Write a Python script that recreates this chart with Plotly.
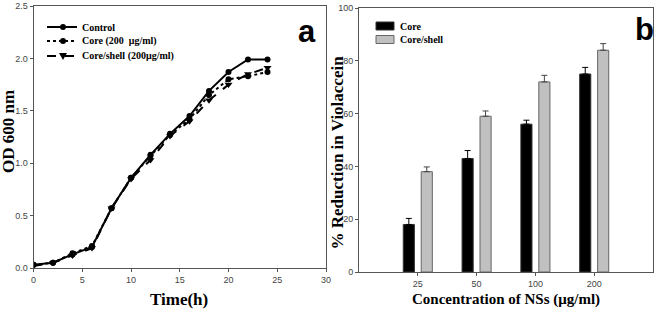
import plotly.graph_objects as go

# ---- Panel a data ----
time_h = [0, 2, 4, 6, 8, 10, 12, 14, 16, 18, 20, 22, 24]
od_control = [0.03, 0.05, 0.13, 0.20, 0.57, 0.86, 1.08, 1.28, 1.45, 1.69, 1.87, 1.99, 1.99]
od_core = [0.03, 0.05, 0.14, 0.21, 0.57, 0.86, 1.07, 1.27, 1.42, 1.65, 1.80, 1.83, 1.87]
od_shell = [0.02, 0.05, 0.12, 0.19, 0.57, 0.85, 1.03, 1.26, 1.40, 1.60, 1.75, 1.85, 1.91]
series_a = ["Control", "Core (200  μg/ml)", "Core/shell (200μg/ml)"]

# ---- Panel b data ----
conc = ["25", "50", "100", "200"]
red_core = [18, 43, 56, 75]
red_shell = [38, 59, 72, 84]
err_core = [2.3, 3.0, 1.5, 2.5]
err_shell = [1.8, 2.0, 2.5, 2.5]
stars_core = ["", "**", "**", "***"]
stars_shell = ["*", "**", "**", "***"]
series_b = ["Core", "Core/shell"]

W, H = 656, 312
SERIF = "Liberation Serif, Times New Roman, serif"
TICKF = dict(family="Liberation Sans Narrow, Arial Narrow, Liberation Sans, Arial", size=9, color="#444")


def px(x):
    return x / W


def py(y):
    return 1 - y / H


fig = go.Figure()

styles_a = [("solid", "circle"), ("dot", "circle"), ("dash", "triangle-down")]
for name, vals, (dash, sym) in zip(series_a, [od_control, od_core, od_shell], styles_a):
    fig.add_trace(go.Scatter(x=time_h, y=vals, name=name, mode="lines+markers",
                             line=dict(color="black", width=2, dash=dash),
                             marker=dict(symbol=sym, size=6 if sym == "circle" else 7, color="black"),
                             xaxis="x", yaxis="y", showlegend=False))

fig.add_trace(go.Bar(x=conc, y=red_core, name=series_b[0],
                     marker=dict(color="black", line=dict(color="#333", width=1)),
                     error_y=dict(type="data", symmetric=False, array=err_core,
                                  arrayminus=[0] * 4, color="black", thickness=1, width=3),
                     xaxis="x2", yaxis="y2", showlegend=False))
fig.add_trace(go.Bar(x=conc, y=red_shell, name=series_b[1],
                     marker=dict(color="#c0c0c0", line=dict(color="#666", width=1)),
                     error_y=dict(type="data", symmetric=False, array=err_shell,
                                  arrayminus=[0] * 4, color="#444", thickness=1, width=3),
                     xaxis="x2", yaxis="y2", showlegend=False))

ann = []
for i, c in enumerate(conc):
    if stars_core[i]:
        ann.append(dict(x=c, y=red_core[i] + err_core[i], xref="x2", yref="y2", text=stars_core[i],
                        showarrow=False, xshift=-9, yshift=5, font=dict(size=8, color="#222")))
    if stars_shell[i]:
        ann.append(dict(x=c, y=red_shell[i] + err_shell[i], xref="x2", yref="y2", text=stars_shell[i],
                        showarrow=False, xshift=9, yshift=5, font=dict(size=8, color="#222")))


def label(text, x, y, size, angle=0, family=SERIF, xanchor="center"):
    return dict(text=text, x=px(x), y=py(y), xref="paper", yref="paper", textangle=angle,
                xanchor=xanchor, yanchor="middle", showarrow=False,
                font=dict(family=family, size=size, color="black"))


ann += [
    label("<b>OD 600 nm</b>", 8, 132, 17, -90),
    label("<b>Time(h)</b>", 179, 299, 17),
    label("<b>% Reduction in Violaccein</b>", 336.5, 153, 17, -90),
    label("<b>Concentration of NSs (μg/ml)</b>", 506, 299, 15),
    label("<b>a</b>", 307, 32, 31, family="Liberation Sans, Arial"),
    label("<b>b</b>", 644, 29, 31, family="Liberation Sans, Arial"),
]

# manual legends
shapes = []
leg_a_y = [27, 41, 56]
for name, (dash, sym), yy in zip(series_a, styles_a, leg_a_y):
    shapes.append(dict(type="line", xref="paper", yref="paper", x0=px(47), x1=px(77), y0=py(yy), y1=py(yy),
                       line=dict(color="black", width=2, dash=dash)))
    if sym == "circle":
        shapes.append(dict(type="circle", xref="paper", yref="paper", x0=px(60), x1=px(66),
                           y0=py(yy - 3), y1=py(yy + 3), fillcolor="black", line=dict(width=0)))
    else:
        shapes.append(dict(type="path", xref="paper", yref="paper",
                           path=f"M {px(59)} {py(yy - 3)} L {px(67)} {py(yy - 3)} L {px(63)} {py(yy + 4)} Z",
                           fillcolor="black", line=dict(width=0)))
    ann.append(label(f"<b>{name}</b>", 80, yy, 10, xanchor="left"))

leg_b_y = [26, 39.5]
for name, yy, col, lc in zip(series_b, leg_b_y, ["black", "#c0c0c0"], ["#333", "#666"]):
    shapes.append(dict(type="rect", xref="paper", yref="paper", x0=px(376), x1=px(394),
                       y0=py(yy - 4), y1=py(yy + 4), fillcolor=col, line=dict(color=lc, width=1)))
    ann.append(label(f"<b>{name}</b>", 398, yy, 10, xanchor="left"))

axis_common = dict(showline=True, linecolor="#555", linewidth=1, mirror=True, ticks="outside",
                   ticklen=3, tickcolor="#555", showgrid=False, zeroline=False, tickfont=TICKF,
                   automargin=False)

fig.update_layout(
    width=W, height=H, margin=dict(l=0, r=0, t=0, b=0, autoexpand=False),
    paper_bgcolor="white", plot_bgcolor="white",
    barmode="group", bargap=0.39, bargroupgap=0.38,
    xaxis=dict(domain=[px(33.5), px(326)], range=[0, 30], tickvals=[0, 5, 10, 15, 20, 25, 30],
               anchor="y", **axis_common),
    yaxis=dict(domain=[py(268), py(6)], range=[0, 2.5], tickvals=[0, 0.5, 1, 1.5, 2, 2.5],
               ticktext=["0.0", "0.5", "1.0", "1.5", "2.0", "2.5"], anchor="x", **axis_common),
    xaxis2=dict(domain=[px(359), px(653)], type="category", range=[-1, 4], anchor="y2", **axis_common),
    yaxis2=dict(domain=[py(272), py(8)], range=[0, 100], tickvals=[0, 20, 40, 60, 80, 100],
                anchor="x2", **axis_common),
    annotations=ann,
    shapes=shapes,
    showlegend=False,
)

fig.write_html("out.html", config={"displayModeBar": False},
               post_script="document.body.style.margin='0';document.body.style.padding='0';")
